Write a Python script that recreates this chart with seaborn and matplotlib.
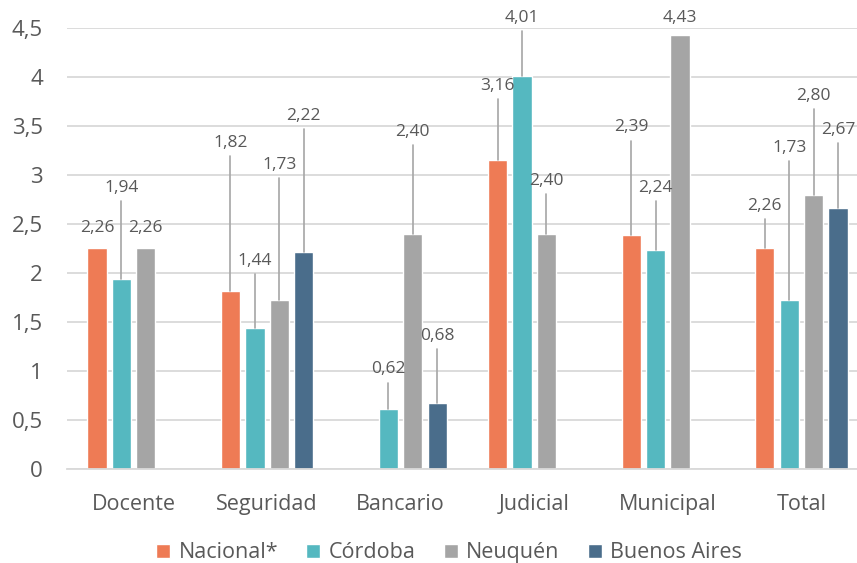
import matplotlib
matplotlib.use("Agg")
import matplotlib.pyplot as plt
import seaborn as sns
import numpy as np
import pandas as pd

# ---- data ----
categories = ["Docente", "Seguridad", "Bancario", "Judicial", "Municipal", "Total"]
series = ["Nacional*", "Córdoba", "Neuquén", "Buenos Aires"]
nacional = [2.26, 1.82, np.nan, 3.16, 2.39, 2.26]
cordoba = [1.94, 1.44, 0.62, 4.01, 2.24, 1.73]
neuquen = [2.26, 1.73, 2.40, 2.40, 4.43, 2.80]
buenos_aires = [np.nan, 2.22, 0.68, np.nan, np.nan, 2.67]
yticks = [0, 0.5, 1, 1.5, 2, 2.5, 3, 3.5, 4, 4.5]
ytick_labels = ["0", "0,5", "1", "1,5", "2", "2,5", "3", "3,5", "4", "4,5"]

# ---- layout: height of each data label centre (with leader lines) ----
label_y_nacional = [2.46, 3.33, np.nan, 3.91, 3.49, 2.69]
label_y_cordoba = [2.87, 2.13, 1.02, 4.61, 2.87, 3.28]
label_y_neuquen = [2.46, 3.11, 3.44, 2.94, 4.61, 3.81]
label_y_buenos_aires = [np.nan, 3.61, 1.36, np.nan, np.nan, 3.46]

colors = ["#EE7B55", "#55B8C0", "#A5A5A5", "#4A6D8B"]
text_color = "#595959"

values = [nacional, cordoba, neuquen, buenos_aires]
label_ys = [label_y_nacional, label_y_cordoba, label_y_neuquen, label_y_buenos_aires]

rows = []
for s, vals in zip(series, values):
    for c, v in zip(categories, vals):
        rows.append({"Categoria": c, "Serie": s, "Valor": v})
df = pd.DataFrame(rows).dropna()

sns.set_theme(style="white")
plt.rcParams["font.family"] = ["Open Sans", "DejaVu Sans"]

fig = plt.figure(figsize=(8.57, 5.63), dpi=100)
ax = fig.add_axes([0.0778, 0.1664, 0.9222, 0.7833])

sns.barplot(data=df, x="Categoria", y="Valor", hue="Serie", order=categories,
            hue_order=series, palette=colors, width=0.73, gap=0.21,
            saturation=1, errorbar=None, ax=ax)

ax.set_xlim(-0.5, 5.416)
ax.set_ylim(0, 4.5)
ax.set_yticks(yticks)
ax.set_yticklabels(ytick_labels)
ax.set_xlabel("")
ax.set_ylabel("")
ax.yaxis.grid(True, color="#D9D9D9", linewidth=1.3)
ax.set_axisbelow(True)
for sp in ["left", "top", "right"]:
    ax.spines[sp].set_visible(False)
ax.spines["bottom"].set_color("#D9D9D9")
ax.spines["bottom"].set_linewidth(1.3)
ax.tick_params(axis="y", length=0, pad=17, labelsize=16, labelcolor=text_color)
ax.tick_params(axis="x", length=0, pad=18, labelsize=15.5, labelcolor=text_color)

# data labels with leader lines
for i, cont in enumerate(ax.containers):
    for bar in cont:
        h = bar.get_height()
        if np.isnan(h):
            continue
        cx = bar.get_x() + bar.get_width() / 2
        cat = int(round(cx))
        ly = label_ys[i][cat]
        txt = f"{h:.2f}".replace(".", ",")
        ax.text(cx, ly, txt, ha="center", va="center", fontsize=12.5,
                color=text_color, clip_on=False, zorder=5)
        top = ly - 0.135
        if top > h + 0.12:
            ax.plot([cx, cx], [h, top], color="#A6A6A6", lw=1.2,
                    zorder=4, clip_on=False)

handles, labels = ax.get_legend_handles_labels()
if ax.get_legend() is not None:
    ax.get_legend().remove()
fig.legend(handles, labels, loc="center", bbox_to_anchor=(0.524, 0.018), ncol=4,
           frameon=False, fontsize=15.5, handlelength=0.65, handleheight=0.65,
           handletextpad=0.4, columnspacing=1.3, labelcolor=text_color,
           borderaxespad=0, borderpad=0)

fig.savefig("out.png", dpi=100)
